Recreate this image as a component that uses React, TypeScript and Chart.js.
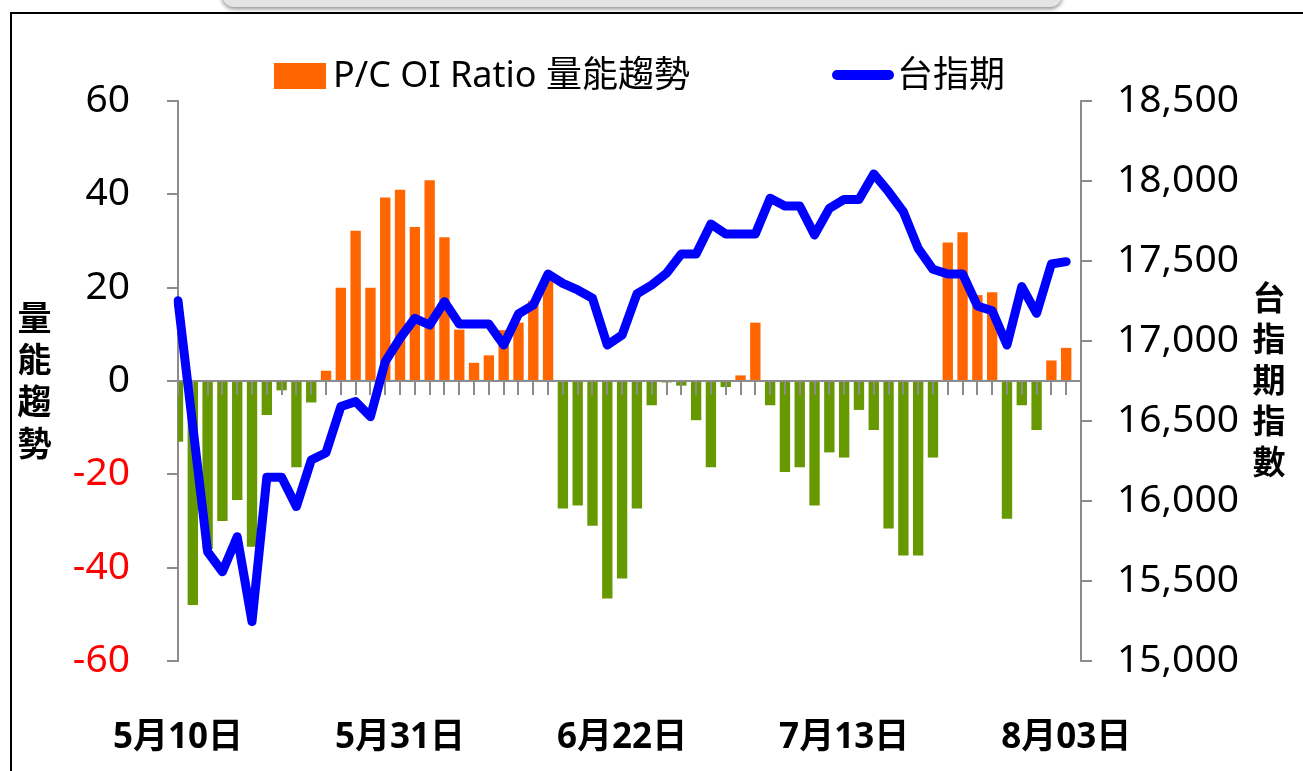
import React, { useEffect, useRef } from "react";
import { Chart, registerables } from "chart.js";

Chart.register(...registerables);

// Trading days (last category is an empty slot at the right edge)
const categories: string[] = [
  "5月10日", "5月11日", "5月12日", "5月13日", "5月14日", "5月17日", "5月18日", "5月19日", "5月20日", "5月21日",
  "5月24日", "5月25日", "5月26日", "5月27日", "5月28日", "5月31日", "6月01日", "6月02日", "6月03日", "6月04日",
  "6月07日", "6月08日", "6月09日", "6月10日", "6月11日", "6月15日", "6月16日", "6月17日", "6月18日", "6月21日",
  "6月22日", "6月23日", "6月24日", "6月25日", "6月28日", "6月29日", "6月30日", "7月01日", "7月02日", "7月05日",
  "7月06日", "7月07日", "7月08日", "7月09日", "7月12日", "7月13日", "7月14日", "7月15日", "7月16日", "7月19日",
  "7月20日", "7月21日", "7月22日", "7月23日", "7月26日", "7月27日", "7月28日", "7月29日", "7月30日", "8月02日",
  "8月03日", "8月04日",
];

const shownLabelIndexes: number[] = [0, 15, 30, 45, 60];

// P/C OI Ratio 量能趨勢
const ratioValues: (number | null)[] = [
  -13, -48, -36, -30, -25.5, -35.5, -7.3, -2, -18.5, -4.6,
  2.2, 20, 32.2, 20, 39.3, 41, 33, 43, 30.8, 11,
  3.9, 5.5, 10.9, 12.5, 17.2, 21.5, -27.3, -26.7, -31, -46.6,
  -42.3, -27.3, -5.2, -0.3, -1.0, -8.4, -18.5, -1.3, 1.2, 12.5,
  -5.2, -19.5, -18.5, -26.7, -15.3, -16.4, -6.2, -10.5, -31.6, -37.4,
  -37.4, -16.4, 29.7, 31.9, 18.4, 19.0, -29.5, -5.2, -10.5, 4.4,
  7.1, null,
];

// 台指期
const indexValues: (number | null)[] = [
  17252, 16468, 15683, 15558, 15777, 15246, 16148, 16148, 15965, 16256,
  16302, 16590, 16621, 16527, 16871, 17017, 17142, 17100, 17246, 17106,
  17106, 17106, 16975, 17169, 17225, 17419, 17360, 17319, 17267, 16975,
  17037, 17294, 17350, 17423, 17544, 17544, 17731, 17669, 17669, 17669,
  17892, 17844, 17844, 17663, 17829, 17885, 17885, 18044, 17933, 17808,
  17579, 17448, 17419, 17419, 17219, 17189, 16975, 17340, 17173, 17481,
  17496, null,
];

const leftTickValues: number[] = [-60, -40, -20, 0, 20, 40, 60];
const rightTickValues: number[] = [15000, 15500, 16000, 16500, 17000, 17500, 18000, 18500];

const FONT = "'Noto Sans', 'Noto Sans CJK TC', sans-serif";
const ORANGE = "#FF6600";
const GREEN = "#669900";
const BLUE = "#0000FF";
const AXIS_GRAY = "#8c8c8c";

const axisMarks = {
  id: "axisMarks",
  afterDatasetDraw(chart: any, args: any) {
    if (args.index !== 1) return;
    const { ctx, chartArea, scales } = chart;
    const y0 = scales.y.getPixelForValue(0);
    ctx.save();
    ctx.strokeStyle = AXIS_GRAY;
    ctx.lineWidth = 2;
    ctx.beginPath();
    ctx.moveTo(chartArea.left, y0);
    ctx.lineTo(chartArea.right, y0);
    for (let i = 0; i < categories.length; i++) {
      const x = Math.round(scales.x.getPixelForValue(i));
      ctx.moveTo(x, y0);
      ctx.lineTo(x, y0 + 14);
    }
    ctx.stroke();
    ctx.restore();
  },
};

export default function App() {
  const canvasRef = useRef<HTMLCanvasElement | null>(null);

  useEffect(() => {
    const canvas = canvasRef.current;
    if (!canvas) return;
    Chart.defaults.font.family = FONT;
    Chart.defaults.color = "#000000";
    const chart = new Chart(canvas, {
      type: "bar",
      data: {
        labels: categories,
        datasets: [
          {
            type: "line",
            label: "台指期",
            data: indexValues,
            yAxisID: "y2",
            borderColor: BLUE,
            backgroundColor: BLUE,
            borderWidth: 9,
            pointRadius: 0,
            tension: 0,
            borderJoinStyle: "round",
            borderCapStyle: "round",
            order: 0,
          } as any,
          {
            type: "bar",
            label: "P/C OI Ratio 量能趨勢",
            data: ratioValues,
            yAxisID: "y",
            backgroundColor: ratioValues.map((v) => ((v ?? 0) >= 0 ? ORANGE : GREEN)),
            barPercentage: 0.7,
            categoryPercentage: 1,
            order: 1,
          } as any,
        ],
      },
      options: {
        responsive: false,
        animation: false,
        layout: { padding: { top: 101, left: 0, right: 0, bottom: 0 } },
        plugins: {
          legend: { display: false },
          tooltip: { enabled: false },
          title: { display: false },
        },
        scales: {
          x: {
            type: "category",
            offset: false,
            grid: { display: false, drawTicks: false },
            border: { display: false },
            ticks: {
              autoSkip: false,
              maxRotation: 0,
              minRotation: 0,
              padding: 56,
              font: { size: 35, weight: "bold", family: FONT },
              color: "#000000",
              callback: (_v: any, idx: number) =>
                shownLabelIndexes.includes(idx) ? categories[idx] : "",
            },
            afterFit: (s: any) => {
              s.height = 110;
            },
          },
          y: {
            type: "linear",
            position: "left",
            min: -60,
            max: 60,
            afterBuildTicks: (s: any) => {
              s.ticks = leftTickValues.map((v) => ({ value: v }));
            },
            grid: {
              drawOnChartArea: false,
              drawTicks: true,
              tickLength: 11,
              color: AXIS_GRAY,
              lineWidth: 2,
            },
            border: { display: true, color: AXIS_GRAY, width: 2 },
            ticks: {
              padding: 37,
              font: { size: 39, family: FONT },
              color: (c: any) => (c.tick && c.tick.value < 0 ? "#FF0000" : "#000000"),
            },
            afterFit: (s: any) => {
              s.width = 178;
            },
          },
          y2: {
            type: "linear",
            position: "right",
            min: 15000,
            max: 18500,
            afterBuildTicks: (s: any) => {
              s.ticks = rightTickValues.map((v) => ({ value: v }));
            },
            grid: {
              drawOnChartArea: false,
              drawTicks: true,
              tickLength: 11,
              color: AXIS_GRAY,
              lineWidth: 2,
            },
            border: { display: true, color: AXIS_GRAY, width: 2 },
            ticks: {
              padding: 25,
              font: { size: 39, family: FONT },
              color: "#000000",
              callback: (v: any) => Number(v).toLocaleString("en-US"),
            },
            afterFit: (s: any) => {
              s.width = 222;
            },
          },
        },
      },
      plugins: [axisMarks],
    } as any);
    return () => chart.destroy();
  }, []);

  const textBase: React.CSSProperties = {
    position: "absolute",
    fontFamily: FONT,
    color: "#000",
    whiteSpace: "nowrap",
    lineHeight: 1,
  };

  return (
    <div
      style={{
        position: "absolute",
        left: 0,
        top: 0,
        width: 1303,
        height: 771,
        overflow: "hidden",
        background: "#ffffff",
      }}
    >
      {/* top tab shadow */}
      <div
        style={{
          position: "absolute",
          left: 222,
          top: -24,
          width: 840,
          height: 31,
          background: "#e4e4e4",
          borderRadius: 12,
          boxShadow: "0 2px 4px rgba(0,0,0,0.45)",
        }}
      />
      {/* frame */}
      <div
        style={{
          position: "absolute",
          left: 10,
          top: 12,
          width: 1310,
          height: 790,
          border: "2px solid #000",
          boxSizing: "border-box",
        }}
      />
      <canvas
        ref={canvasRef}
        width={1303}
        height={771}
        style={{ position: "absolute", left: 0, top: 0, width: 1303, height: 771 }}
      />
      {/* legend */}
      <div
        style={{
          position: "absolute",
          left: 274,
          top: 63,
          width: 52,
          height: 26,
          background: ORANGE,
        }}
      />
      <div style={{ ...textBase, left: 333, top: 56, fontSize: 36 }}>P/C OI Ratio 量能趨勢</div>
      <div
        style={{
          position: "absolute",
          left: 832,
          top: 70,
          width: 62,
          height: 10,
          borderRadius: 5,
          background: BLUE,
        }}
      />
      <div style={{ ...textBase, left: 897, top: 56, fontSize: 36 }}>台指期</div>
      {/* axis titles */}
      <div
        style={{
          ...textBase,
          left: 16,
          top: 300,
          fontSize: 34,
          fontWeight: "bold",
          writingMode: "vertical-rl",
          textOrientation: "upright",
          letterSpacing: 8,
        }}
      >
        量能趨勢
      </div>
      <div
        style={{
          ...textBase,
          left: 1251,
          top: 281,
          fontSize: 33,
          fontWeight: "bold",
          writingMode: "vertical-rl",
          textOrientation: "upright",
          letterSpacing: 8,
        }}
      >
        台指期指數
      </div>
    </div>
  );
}
